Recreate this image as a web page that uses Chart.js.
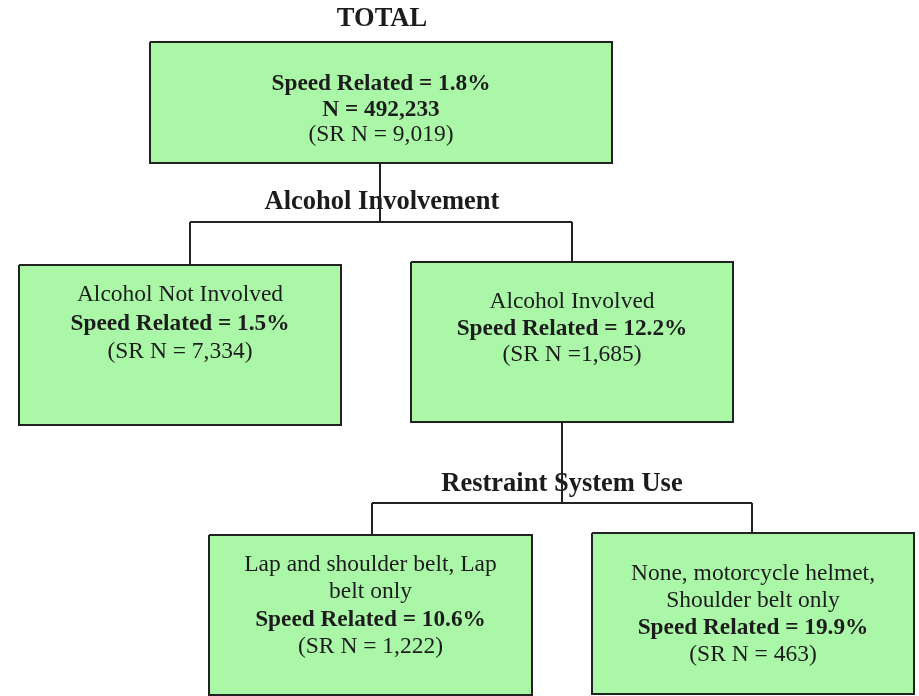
<!DOCTYPE html>
<html>
<head>
<meta charset="utf-8">
<script src="https://cdn.jsdelivr.net/npm/chart.js@4.4.1/dist/chart.umd.min.js"></script>
<style>
  body { margin: 0; background: #fff; }
  #wrap { width: 919px; height: 696px; position: relative; }
</style>
</head>
<body>
<div id="wrap"><canvas id="tree"></canvas></div>
<script>
// tree data
const nodeLabels = [
  [],
  ['Alcohol Not Involved'],
  ['Alcohol Involved'],
  ['Lap and shoulder belt, Lap', 'belt only'],
  ['None, motorcycle helmet,', 'Shoulder belt only']
];
const speedPct = [1.8, 1.5, 12.2, 10.6, 19.9];
const totalN = [492233, null, null, null, null];
const srN = [9019, 7334, 1685, 1222, 463];
const srSep = [' = ', ' = ', ' =', ' = ', ' = '];
const splitTitles = ['TOTAL', 'Alcohol Involvement', 'Restraint System Use'];

// layout (pixels in the 919x696 frame)
const boxes = [
  [150, 42, 612, 163],
  [19, 265, 341, 425],
  [411, 262, 733, 422],
  [209, 535, 532, 695],
  [592, 533, 914, 694]
];
const textTop = [84, 295, 302, 565, 574];
const lineGap = [25.5, 28.5, 26.5, 27.3, 27];
const titlePos = [[382, 19], [382, 202], [562, 484]];
const connectors = [
  [[380, 163], [380, 222]],
  [[190, 222], [572, 222]],
  [[190, 222], [190, 265]],
  [[572, 222], [572, 262]],
  [[562, 422], [562, 503]],
  [[372, 503], [752, 503]],
  [[372, 503], [372, 535]],
  [[752, 503], [752, 533]]
];

const fmt = v => v.toLocaleString('en-US');
const serif = '"Liberation Serif", "Times New Roman", serif';
const ink = '#1c1c1c';

function nodeLines(i) {
  const out = nodeLabels[i].map(t => ({ t, bold: false }));
  out.push({ t: 'Speed Related = ' + speedPct[i].toFixed(1) + '%', bold: true });
  if (totalN[i] !== null) out.push({ t: 'N = ' + fmt(totalN[i]), bold: true });
  out.push({ t: '(SR N' + srSep[i] + fmt(srN[i]) + ')', bold: false });
  return out;
}

const datasets = [];
boxes.forEach(b => {
  datasets.push({
    data: [
      { x: b[0], y: b[1] }, { x: b[2], y: b[1] }, { x: b[2], y: b[3] },
      { x: b[0], y: b[3] }, { x: b[0], y: b[1] }
    ],
    showLine: true,
    fill: 'shape',
    backgroundColor: '#abf7a8',
    borderColor: '#222',
    borderWidth: 2,
    pointRadius: 0,
    tension: 0
  });
});
connectors.forEach(c => {
  datasets.push({
    data: c.map(p => ({ x: p[0], y: p[1] })),
    showLine: true,
    fill: false,
    borderColor: '#222',
    borderWidth: 2,
    pointRadius: 0,
    order: -1
  });
});

const labelsPlugin = {
  id: 'treeText',
  beforeDatasetsDraw(chart) {
    const { ctx, scales: { x, y } } = chart;
    ctx.save();
    ctx.fillStyle = ink;
    ctx.textAlign = 'center';
    ctx.textBaseline = 'middle';
    splitTitles.forEach((t, i) => {
      ctx.font = 'bold 26.5px ' + serif;
      ctx.fillText(t, x.getPixelForValue(titlePos[i][0]), y.getPixelForValue(titlePos[i][1]));
    });
    ctx.restore();
  },
  afterDatasetsDraw(chart) {
    const { ctx, scales: { x, y } } = chart;
    ctx.save();
    ctx.fillStyle = ink;
    ctx.textAlign = 'center';
    ctx.textBaseline = 'middle';
    boxes.forEach((b, i) => {
      const cx = x.getPixelForValue((b[0] + b[2]) / 2);
      nodeLines(i).forEach((ln, k) => {
        ctx.font = (ln.bold ? 'bold 23.3px ' : '23.5px ') + serif;
        ctx.fillText(ln.t, cx, y.getPixelForValue(textTop[i] + k * lineGap[i]));
      });
    });
    ctx.restore();
  }
};

new Chart(document.getElementById('tree'), {
  type: 'scatter',
  data: { datasets },
  options: {
    responsive: true,
    maintainAspectRatio: false,
    animation: false,
    layout: { padding: 0 },
    plugins: { legend: { display: false }, tooltip: { enabled: false } },
    scales: {
      x: { type: 'linear', min: 0, max: 919, display: false },
      y: { type: 'linear', min: 0, max: 696, reverse: true, display: false }
    }
  },
  plugins: [labelsPlugin]
});
</script>
</body>
</html>
